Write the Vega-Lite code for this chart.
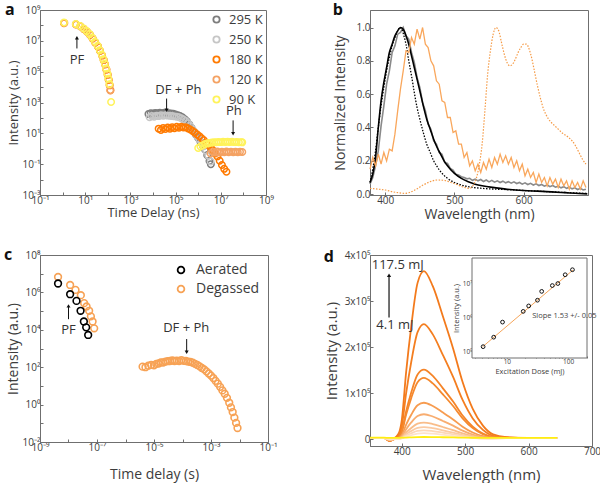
{
"$schema": "https://vega.github.io/schema/vega-lite/v6.json",
"padding": {"left": 3, "top": 1, "right": 0, "bottom": 0},
"background": "white",
"config": {
  "font": "Open Sans",
  "view": {"stroke": "#6f6f6f", "strokeWidth": 1},
  "axis": {"grid": false, "domainColor": "#6f6f6f", "tickColor": "#6f6f6f", "labelColor": "#3c3c3c", "titleColor": "#3c3c3c", "labelFontSize": 10, "titleFontWeight": "normal", "tickSize": -3, "labelPadding": 3, "labelFlush": false, "labelOverlap": false},
  "legend": {"labelColor": "#3c3c3c"}
},
"datasets": {
  "a_pts": [
    {"s":"295 K","t":6300,"v":178},{"s":"295 K","t":7900,"v":200},{"s":"295 K","t":10000,"v":191},{"s":"295 K","t":12600,"v":209},{"s":"295 K","t":15800,"v":200},{"s":"295 K","t":20000,"v":214},{"s":"295 K","t":25000,"v":204},{"s":"295 K","t":31600,"v":219},{"s":"295 K","t":39800,"v":209},{"s":"295 K","t":50100,"v":200},{"s":"295 K","t":63100,"v":191},{"s":"295 K","t":79400,"v":186},{"s":"295 K","t":100000,"v":166},{"s":"295 K","t":126000,"v":151},{"s":"295 K","t":158000,"v":132},{"s":"295 K","t":200000,"v":110},{"s":"295 K","t":251000,"v":83},{"s":"295 K","t":316000,"v":60},{"s":"295 K","t":398000,"v":38},{"s":"295 K","t":501000,"v":22.4},{"s":"295 K","t":631000,"v":13.2},{"s":"295 K","t":794000,"v":8.3},{"s":"295 K","t":1000000,"v":5.0},{"s":"295 K","t":1259000,"v":2.8},{"s":"295 K","t":1585000,"v":1.66},{"s":"295 K","t":1995000,"v":0.89},{"s":"295 K","t":2512000,"v":0.38},{"s":"295 K","t":3162000,"v":0.16},{"s":"295 K","t":3630000,"v":0.1},
    {"s":"250 K","t":7080,"v":112},{"s":"250 K","t":8910,"v":132},{"s":"250 K","t":11200,"v":120},{"s":"250 K","t":14100,"v":141},{"s":"250 K","t":17800,"v":132},{"s":"250 K","t":22400,"v":151},{"s":"250 K","t":28200,"v":138},{"s":"250 K","t":35500,"v":148},{"s":"250 K","t":44700,"v":141},{"s":"250 K","t":56200,"v":138},{"s":"250 K","t":70800,"v":132},{"s":"250 K","t":89100,"v":126},{"s":"250 K","t":112000,"v":120},{"s":"250 K","t":141000,"v":110},{"s":"250 K","t":178000,"v":95},{"s":"250 K","t":224000,"v":79},{"s":"250 K","t":282000,"v":63},{"s":"250 K","t":355000,"v":46},{"s":"250 K","t":447000,"v":30},{"s":"250 K","t":562000,"v":18.2},{"s":"250 K","t":708000,"v":11},{"s":"250 K","t":891000,"v":6.9},{"s":"250 K","t":1122000,"v":4.2},{"s":"250 K","t":1413000,"v":2.5},{"s":"250 K","t":1778000,"v":1.45},{"s":"250 K","t":2239000,"v":0.76},{"s":"250 K","t":2818000,"v":0.35},{"s":"250 K","t":3548000,"v":0.15},
    {"s":"180 K","t":1.15,"v":1.4e8},{"s":"180 K","t":3.9,"v":1.15e8},{"s":"180 K","t":6.2,"v":8.5e7},{"s":"180 K","t":8.8,"v":5.8e7},{"s":"180 K","t":12,"v":3.9e7},{"s":"180 K","t":16.3,"v":2.4e7},{"s":"180 K","t":21.3,"v":1.4e7},{"s":"180 K","t":28,"v":7.6e6},{"s":"180 K","t":37,"v":4.2e6},{"s":"180 K","t":45.5,"v":2.2e6},{"s":"180 K","t":56,"v":1.1e6},{"s":"180 K","t":66,"v":5.6e5},{"s":"180 K","t":76,"v":2.9e5},{"s":"180 K","t":87,"v":1.35e5},{"s":"180 K","t":99,"v":6.2e4},{"s":"180 K","t":110,"v":2.9e4},{"s":"180 K","t":121,"v":1.3e4},{"s":"180 K","t":131,"v":6.3e3},
    {"s":"180 K","t":17800,"v":20},{"s":"180 K","t":22400,"v":16.6},{"s":"180 K","t":28200,"v":22.4},{"s":"180 K","t":35500,"v":19.1},{"s":"180 K","t":44700,"v":24},{"s":"180 K","t":56200,"v":20},{"s":"180 K","t":70800,"v":25.1},{"s":"180 K","t":89100,"v":21.4},{"s":"180 K","t":112000,"v":26.3},{"s":"180 K","t":141000,"v":22.9},{"s":"180 K","t":178000,"v":26.9},{"s":"180 K","t":224000,"v":24},{"s":"180 K","t":282000,"v":25.1},{"s":"180 K","t":355000,"v":20.9},{"s":"180 K","t":447000,"v":17.8},{"s":"180 K","t":562000,"v":14.1},{"s":"180 K","t":708000,"v":11.2},{"s":"180 K","t":891000,"v":8.5},{"s":"180 K","t":1122000,"v":6.6},{"s":"180 K","t":1413000,"v":4.8},{"s":"180 K","t":1778000,"v":3.55},{"s":"180 K","t":2239000,"v":2.5},{"s":"180 K","t":2818000,"v":1.74},{"s":"180 K","t":3548000,"v":1.2},{"s":"180 K","t":4467000,"v":0.79},{"s":"180 K","t":5623000,"v":0.5},{"s":"180 K","t":7079000,"v":0.32},{"s":"180 K","t":8913000,"v":0.166},{"s":"180 K","t":11220000,"v":0.089},{"s":"180 K","t":14130000,"v":0.05},{"s":"180 K","t":17780000,"v":0.032},
    {"s":"120 K","t":1.2,"v":1.45e8},{"s":"120 K","t":3.85,"v":1.2e8},{"s":"120 K","t":6.1,"v":8.8e7},{"s":"120 K","t":8.7,"v":6e7},{"s":"120 K","t":11.8,"v":4.1e7},{"s":"120 K","t":16,"v":2.6e7},{"s":"120 K","t":21,"v":1.5e7},{"s":"120 K","t":27.5,"v":8.2e6},{"s":"120 K","t":36.5,"v":4.5e6},{"s":"120 K","t":45,"v":2.3e6},{"s":"120 K","t":55,"v":1.2e6},{"s":"120 K","t":65,"v":6e5},{"s":"120 K","t":75,"v":3.1e5},{"s":"120 K","t":86,"v":1.45e5},{"s":"120 K","t":98,"v":6.8e4},{"s":"120 K","t":108,"v":3.2e4},{"s":"120 K","t":120,"v":1.4e4},{"s":"120 K","t":129,"v":6.0e3},
    {"s":"120 K","t":3548000,"v":0.5},{"s":"120 K","t":4467000,"v":0.63},{"s":"120 K","t":5623000,"v":0.56},{"s":"120 K","t":7079000,"v":0.66},{"s":"120 K","t":8913000,"v":0.575},{"s":"120 K","t":11220000,"v":0.63},{"s":"120 K","t":14130000,"v":0.6},{"s":"120 K","t":17780000,"v":0.66},{"s":"120 K","t":22390000,"v":0.6},{"s":"120 K","t":28180000,"v":0.65},{"s":"120 K","t":35480000,"v":0.59},{"s":"120 K","t":44670000,"v":0.63},{"s":"120 K","t":56230000,"v":0.6},{"s":"120 K","t":70790000,"v":0.63},{"s":"120 K","t":89130000,"v":0.62},
    {"s":"90 K","t":1.15,"v":1.55e8},{"s":"90 K","t":3.85,"v":1.23e8},{"s":"90 K","t":5.98,"v":9.1e7},{"s":"90 K","t":8.5,"v":6.3e7},{"s":"90 K","t":11.6,"v":4.3e7},{"s":"90 K","t":15.7,"v":2.75e7},{"s":"90 K","t":20.5,"v":1.58e7},{"s":"90 K","t":27.1,"v":8.7e6},{"s":"90 K","t":35.8,"v":4.8e6},{"s":"90 K","t":44,"v":2.5e6},{"s":"90 K","t":54,"v":1.29e6},{"s":"90 K","t":63.7,"v":6.5e5},{"s":"90 K","t":73.5,"v":3.4e5},{"s":"90 K","t":84,"v":1.58e5},{"s":"90 K","t":96,"v":7.4e4},{"s":"90 K","t":106,"v":3.5e4},{"s":"90 K","t":118,"v":1.55e4},{"s":"90 K","t":140,"v":1.07e3},
    {"s":"90 K","t":1000000,"v":1.12},{"s":"90 K","t":1259000,"v":1.41},{"s":"90 K","t":1585000,"v":1.66},{"s":"90 K","t":1995000,"v":2.0},{"s":"90 K","t":2512000,"v":2.24},{"s":"90 K","t":3162000,"v":2.4},{"s":"90 K","t":3981000,"v":2.51},{"s":"90 K","t":5012000,"v":2.63},{"s":"90 K","t":6310000,"v":2.63},{"s":"90 K","t":7943000,"v":2.75},{"s":"90 K","t":10000000,"v":2.69},{"s":"90 K","t":12590000,"v":2.82},{"s":"90 K","t":15850000,"v":2.75},{"s":"90 K","t":19950000,"v":2.82},{"s":"90 K","t":25120000,"v":2.75},{"s":"90 K","t":31620000,"v":2.82},{"s":"90 K","t":39810000,"v":2.69},{"s":"90 K","t":50120000,"v":2.75},{"s":"90 K","t":63100000,"v":2.63},{"s":"90 K","t":79430000,"v":2.69},{"s":"90 K","t":89000000,"v":2.6}
  ],
  "a_txt": [{"t":4.3,"v":560000,"label":"PF"},{"t":133000,"v":6300,"label":"DF + Ph"},{"t":38000000,"v":270,"label":"Ph"}],
  "a_arr": [{"t":4.3,"from":3200000,"to":16000000,"dir":"up"},{"t":40000,"from":1800,"to":316,"dir":"down"},{"t":35000000,"from":69,"to":9.3,"dir":"down"}],
  "b_gray": [
    {"w":378,"v":0.06},{"w":382,"v":0.1},{"w":386,"v":0.17},{"w":390,"v":0.26},{"w":394,"v":0.41},{"w":398,"v":0.53},{"w":402,"v":0.66},{"w":406,"v":0.74},{"w":410,"v":0.85},{"w":414,"v":0.89},{"w":418,"v":0.96},{"w":422,"v":0.97},{"w":426,"v":1.0},{"w":430,"v":0.95},{"w":434,"v":0.93},{"w":438,"v":0.85},{"w":442,"v":0.79},{"w":446,"v":0.7},{"w":450,"v":0.64},{"w":454,"v":0.55},{"w":458,"v":0.5},{"w":462,"v":0.42},{"w":466,"v":0.39},{"w":470,"v":0.32},{"w":474,"v":0.3},{"w":478,"v":0.25},{"w":482,"v":0.24},{"w":486,"v":0.19},{"w":490,"v":0.185},{"w":494,"v":0.155},{"w":498,"v":0.145},{"w":502,"v":0.12},{"w":506,"v":0.115},{"w":510,"v":0.105},{"w":514,"v":0.1},{"w":518,"v":0.092},{"w":522,"v":0.095},{"w":526,"v":0.083},{"w":530,"v":0.09},{"w":534,"v":0.08},{"w":538,"v":0.088},{"w":542,"v":0.076},{"w":546,"v":0.085},{"w":550,"v":0.074},{"w":554,"v":0.083},{"w":558,"v":0.072},{"w":562,"v":0.08},{"w":566,"v":0.07},{"w":570,"v":0.078},{"w":574,"v":0.068},{"w":578,"v":0.075},{"w":582,"v":0.066},{"w":586,"v":0.074},{"w":590,"v":0.064},{"w":594,"v":0.07},{"w":598,"v":0.06},{"w":602,"v":0.068},{"w":606,"v":0.058},{"w":610,"v":0.065},{"w":614,"v":0.055},{"w":618,"v":0.062},{"w":622,"v":0.052},{"w":626,"v":0.058},{"w":630,"v":0.048},{"w":634,"v":0.055},{"w":638,"v":0.045},{"w":642,"v":0.052},{"w":646,"v":0.042},{"w":650,"v":0.048},{"w":654,"v":0.038},{"w":658,"v":0.045},{"w":662,"v":0.035},{"w":666,"v":0.042},{"w":670,"v":0.032},{"w":674,"v":0.038},{"w":678,"v":0.028},{"w":682,"v":0.035},{"w":686,"v":0.025},{"w":690,"v":0.03}
  ],
  "b_black": [
    {"w":378,"v":0.07},{"w":382,"v":0.12},{"w":386,"v":0.22},{"w":390,"v":0.4},{"w":394,"v":0.56},{"w":398,"v":0.67},{"w":402,"v":0.76},{"w":406,"v":0.85},{"w":410,"v":0.9},{"w":414,"v":0.95},{"w":418,"v":0.98},{"w":422,"v":1.0},{"w":426,"v":0.99},{"w":430,"v":0.95},{"w":434,"v":0.9},{"w":438,"v":0.83},{"w":442,"v":0.76},{"w":446,"v":0.69},{"w":450,"v":0.62},{"w":455,"v":0.53},{"w":460,"v":0.45},{"w":465,"v":0.39},{"w":470,"v":0.33},{"w":475,"v":0.28},{"w":480,"v":0.24},{"w":485,"v":0.2},{"w":490,"v":0.17},{"w":495,"v":0.145},{"w":500,"v":0.125},{"w":510,"v":0.095},{"w":520,"v":0.075},{"w":530,"v":0.06},{"w":540,"v":0.05},{"w":560,"v":0.038},{"w":580,"v":0.028},{"w":600,"v":0.022},{"w":620,"v":0.018},{"w":640,"v":0.014},{"w":660,"v":0.009},{"w":680,"v":0.004},{"w":692,"v":0.002}
  ],
  "b_blackdot": [
    {"w":378,"v":0.07},{"w":382,"v":0.15},{"w":386,"v":0.26},{"w":390,"v":0.4},{"w":394,"v":0.53},{"w":398,"v":0.64},{"w":402,"v":0.74},{"w":406,"v":0.82},{"w":410,"v":0.89},{"w":414,"v":0.94},{"w":418,"v":0.98},{"w":421,"v":1.0},{"w":424,"v":0.99},{"w":427,"v":0.95},{"w":430,"v":0.9},{"w":434,"v":0.8},{"w":438,"v":0.71},{"w":442,"v":0.61},{"w":446,"v":0.52},{"w":450,"v":0.45},{"w":455,"v":0.37},{"w":460,"v":0.3},{"w":465,"v":0.25},{"w":470,"v":0.2},{"w":475,"v":0.165},{"w":480,"v":0.135},{"w":490,"v":0.095},{"w":500,"v":0.07},{"w":510,"v":0.055},{"w":520,"v":0.045},{"w":540,"v":0.035},{"w":560,"v":0.03},{"w":580,"v":0.027},{"w":600,"v":0.022},{"w":630,"v":0.016},{"w":660,"v":0.01},{"w":692,"v":0.004}
  ],
  "b_orange": [
    {"w":378,"v":0.15},{"w":382,"v":0.22},{"w":386,"v":0.17},{"w":390,"v":0.24},{"w":394,"v":0.18},{"w":398,"v":0.25},{"w":402,"v":0.2},{"w":406,"v":0.27},{"w":410,"v":0.26},{"w":414,"v":0.36},{"w":418,"v":0.5},{"w":422,"v":0.63},{"w":426,"v":0.74},{"w":430,"v":0.86},{"w":434,"v":0.85},{"w":438,"v":0.94},{"w":442,"v":0.9},{"w":446,"v":0.99},{"w":450,"v":0.93},{"w":454,"v":1.0},{"w":458,"v":0.9},{"w":462,"v":0.88},{"w":466,"v":0.8},{"w":470,"v":0.77},{"w":474,"v":0.68},{"w":478,"v":0.66},{"w":482,"v":0.56},{"w":486,"v":0.55},{"w":490,"v":0.46},{"w":494,"v":0.46},{"w":498,"v":0.37},{"w":502,"v":0.38},{"w":506,"v":0.3},{"w":510,"v":0.3},{"w":514,"v":0.22},{"w":518,"v":0.25},{"w":522,"v":0.17},{"w":526,"v":0.2},{"w":530,"v":0.14},{"w":534,"v":0.18},{"w":538,"v":0.13},{"w":542,"v":0.19},{"w":546,"v":0.15},{"w":550,"v":0.21},{"w":554,"v":0.16},{"w":558,"v":0.22},{"w":562,"v":0.18},{"w":566,"v":0.24},{"w":570,"v":0.19},{"w":574,"v":0.23},{"w":578,"v":0.18},{"w":582,"v":0.22},{"w":586,"v":0.16},{"w":590,"v":0.2},{"w":594,"v":0.14},{"w":598,"v":0.18},{"w":602,"v":0.11},{"w":606,"v":0.15},{"w":610,"v":0.1},{"w":614,"v":0.13},{"w":618,"v":0.07},{"w":622,"v":0.12},{"w":626,"v":0.07},{"w":630,"v":0.1},{"w":634,"v":0.05},{"w":638,"v":0.1},{"w":642,"v":0.06},{"w":646,"v":0.09},{"w":650,"v":0.04},{"w":654,"v":0.09},{"w":658,"v":0.05},{"w":662,"v":0.08},{"w":666,"v":0.03},{"w":670,"v":0.08},{"w":674,"v":0.04},{"w":678,"v":0.07},{"w":682,"v":0.03},{"w":686,"v":0.08},{"w":690,"v":0.04}
  ],
  "b_orangedot": [
    {"w":378,"v":0.035},{"w":390,"v":0.03},{"w":400,"v":0.025},{"w":410,"v":0.015},{"w":420,"v":0.008},{"w":428,"v":0.005},{"w":435,"v":0.01},{"w":445,"v":0.03},{"w":455,"v":0.055},{"w":465,"v":0.075},{"w":475,"v":0.085},{"w":485,"v":0.083},{"w":495,"v":0.07},{"w":505,"v":0.055},{"w":515,"v":0.04},{"w":522,"v":0.035},{"w":528,"v":0.06},{"w":532,"v":0.1},{"w":536,"v":0.18},{"w":540,"v":0.3},{"w":544,"v":0.5},{"w":548,"v":0.72},{"w":552,"v":0.86},{"w":556,"v":0.96},{"w":560,"v":1.0},{"w":564,"v":0.98},{"w":568,"v":0.91},{"w":572,"v":0.84},{"w":576,"v":0.79},{"w":580,"v":0.77},{"w":584,"v":0.78},{"w":588,"v":0.81},{"w":592,"v":0.85},{"w":596,"v":0.88},{"w":600,"v":0.9},{"w":604,"v":0.9},{"w":608,"v":0.87},{"w":612,"v":0.81},{"w":616,"v":0.73},{"w":620,"v":0.65},{"w":624,"v":0.58},{"w":628,"v":0.52},{"w":632,"v":0.48},{"w":636,"v":0.45},{"w":640,"v":0.43},{"w":645,"v":0.41},{"w":650,"v":0.39},{"w":655,"v":0.37},{"w":660,"v":0.355},{"w":665,"v":0.34},{"w":670,"v":0.32},{"w":675,"v":0.29},{"w":680,"v":0.25},{"w":685,"v":0.21},{"w":690,"v":0.18}
  ],
  "c_pts": [
    {"s":"Degassed","t":4.3e-9,"v":6.7e6},{"s":"Degassed","t":1.14e-8,"v":2.5e6},{"s":"Degassed","t":1.76e-8,"v":1.36e6},{"s":"Degassed","t":2.71e-8,"v":7.1e5},{"s":"Degassed","t":3.54e-8,"v":2.66e5},{"s":"Degassed","t":4.3e-8,"v":1.77e5},{"s":"Degassed","t":5.3e-8,"v":1.04e5},{"s":"Degassed","t":6.1e-8,"v":5.2e4},{"s":"Degassed","t":7.0e-8,"v":2.8e4},{"s":"Degassed","t":7.96e-8,"v":1.2e4},
    {"s":"Degassed","t":3.98e-6,"v":107},{"s":"Degassed","t":5.01e-6,"v":100},{"s":"Degassed","t":6.31e-6,"v":120},{"s":"Degassed","t":7.94e-6,"v":132},{"s":"Degassed","t":1.0e-5,"v":126},{"s":"Degassed","t":1.2e-5,"v":151},{"s":"Degassed","t":1.45e-5,"v":158},{"s":"Degassed","t":1.74e-5,"v":182},{"s":"Degassed","t":2.09e-5,"v":178},{"s":"Degassed","t":2.51e-5,"v":200},{"s":"Degassed","t":3.02e-5,"v":209},{"s":"Degassed","t":3.63e-5,"v":214},{"s":"Degassed","t":4.37e-5,"v":229},{"s":"Degassed","t":5.25e-5,"v":214},{"s":"Degassed","t":6.31e-5,"v":224},{"s":"Degassed","t":7.59e-5,"v":214},{"s":"Degassed","t":9.12e-5,"v":240},{"s":"Degassed","t":1.096e-4,"v":219},{"s":"Degassed","t":1.318e-4,"v":214},{"s":"Degassed","t":1.585e-4,"v":200},{"s":"Degassed","t":1.905e-4,"v":191},{"s":"Degassed","t":2.291e-4,"v":174},{"s":"Degassed","t":2.754e-4,"v":151},{"s":"Degassed","t":3.311e-4,"v":132},{"s":"Degassed","t":3.981e-4,"v":110},{"s":"Degassed","t":4.786e-4,"v":91},{"s":"Degassed","t":5.754e-4,"v":76},{"s":"Degassed","t":6.918e-4,"v":60},{"s":"Degassed","t":8.318e-4,"v":46},{"s":"Degassed","t":1.0e-3,"v":35.5},{"s":"Degassed","t":1.202e-3,"v":26.3},{"s":"Degassed","t":1.445e-3,"v":18.6},{"s":"Degassed","t":1.738e-3,"v":13.2},{"s":"Degassed","t":2.089e-3,"v":8.9},{"s":"Degassed","t":2.512e-3,"v":5.75},{"s":"Degassed","t":3.02e-3,"v":3.8},{"s":"Degassed","t":3.631e-3,"v":2.29},{"s":"Degassed","t":4.365e-3,"v":1.26},{"s":"Degassed","t":5.012e-3,"v":0.71},{"s":"Degassed","t":5.754e-3,"v":0.4},{"s":"Degassed","t":6.607e-3,"v":0.2},{"s":"Degassed","t":7.586e-3,"v":0.105},{"s":"Degassed","t":8.511e-3,"v":0.056},
    {"s":"Aerated","t":4.3e-9,"v":3.0e6},{"s":"Aerated","t":1.14e-8,"v":8.0e5},{"s":"Aerated","t":1.91e-8,"v":3.5e5},{"s":"Aerated","t":2.65e-8,"v":1.04e5},{"s":"Aerated","t":3.46e-8,"v":2.8e4},{"s":"Aerated","t":4.17e-8,"v":1.35e4},{"s":"Aerated","t":4.9e-8,"v":5.3e3}
  ],
  "c_txt": [{"t":1e-8,"v":10000,"label":"PF"},{"t":1.35e-4,"v":12000,"label":"DF + Ph"}],
  "c_arr": [{"t":1e-8,"from":37000,"to":190000,"dir":"up"},{"t":1.4e-4,"from":3200,"to":630,"dir":"down"}],
  "d_spec": [
    {"d":"117.5","w":350,"i":2500},{"d":"117.5","w":372,"i":2500},{"d":"117.5","w":381,"i":-4000},{"d":"117.5","w":390,"i":3650},{"d":"117.5","w":396,"i":14600},{"d":"117.5","w":400,"i":40150},{"d":"117.5","w":407,"i":146000},{"d":"117.5","w":415,"i":244550},{"d":"117.5","w":425,"i":339450},{"d":"117.5","w":435,"i":365000},{"d":"117.5","w":449,"i":332150},{"d":"117.5","w":465,"i":266450},{"d":"117.5","w":481,"i":197100},{"d":"117.5","w":496,"i":124100},{"d":"117.5","w":512,"i":65700},{"d":"117.5","w":528,"i":29200},{"d":"117.5","w":544,"i":10125},{"d":"117.5","w":565,"i":4190},{"d":"117.5","w":600,"i":2500},{"d":"117.5","w":645,"i":2500},
    {"d":"89.5","w":350,"i":2500},{"d":"89.5","w":372,"i":2500},{"d":"89.5","w":381,"i":-4000},{"d":"89.5","w":390,"i":2500},{"d":"89.5","w":396,"i":10000},{"d":"89.5","w":400,"i":27500},{"d":"89.5","w":407,"i":100000},{"d":"89.5","w":415,"i":167500},{"d":"89.5","w":425,"i":232500},{"d":"89.5","w":435,"i":250000},{"d":"89.5","w":449,"i":227500},{"d":"89.5","w":465,"i":182500},{"d":"89.5","w":481,"i":135000},{"d":"89.5","w":496,"i":85000},{"d":"89.5","w":512,"i":45000},{"d":"89.5","w":528,"i":20000},{"d":"89.5","w":544,"i":7250},{"d":"89.5","w":565,"i":3500},{"d":"89.5","w":600,"i":2500},{"d":"89.5","w":645,"i":2500},
    {"d":"67.9","w":350,"i":2500},{"d":"67.9","w":372,"i":2500},{"d":"67.9","w":381,"i":-3500},{"d":"67.9","w":390,"i":1510},{"d":"67.9","w":396,"i":6040},{"d":"67.9","w":400,"i":16610},{"d":"67.9","w":407,"i":60400},{"d":"67.9","w":415,"i":101170},{"d":"67.9","w":425,"i":140430},{"d":"67.9","w":435,"i":151000},{"d":"67.9","w":449,"i":137410},{"d":"67.9","w":465,"i":110230},{"d":"67.9","w":481,"i":81540},{"d":"67.9","w":496,"i":51340},{"d":"67.9","w":512,"i":27180},{"d":"67.9","w":528,"i":12080},{"d":"67.9","w":544,"i":4775},{"d":"67.9","w":565,"i":2906},{"d":"67.9","w":600,"i":2500},{"d":"67.9","w":645,"i":2500},
    {"d":"55.2","w":350,"i":2500},{"d":"55.2","w":372,"i":2500},{"d":"55.2","w":381,"i":-3500},{"d":"55.2","w":390,"i":1330},{"d":"55.2","w":396,"i":5320},{"d":"55.2","w":400,"i":14630},{"d":"55.2","w":407,"i":53200},{"d":"55.2","w":415,"i":89110},{"d":"55.2","w":425,"i":123690},{"d":"55.2","w":435,"i":133000},{"d":"55.2","w":449,"i":121030},{"d":"55.2","w":465,"i":97090},{"d":"55.2","w":481,"i":71820},{"d":"55.2","w":496,"i":45220},{"d":"55.2","w":512,"i":23940},{"d":"55.2","w":528,"i":10640},{"d":"55.2","w":544,"i":4325},{"d":"55.2","w":565,"i":2798},{"d":"55.2","w":600,"i":2500},{"d":"55.2","w":645,"i":2500},
    {"d":"37","w":350,"i":2000},{"d":"37","w":372,"i":2000},{"d":"37","w":381,"i":-2500},{"d":"37","w":390,"i":790},{"d":"37","w":396,"i":3160},{"d":"37","w":400,"i":8690},{"d":"37","w":407,"i":31600},{"d":"37","w":415,"i":52930},{"d":"37","w":425,"i":73470},{"d":"37","w":435,"i":79000},{"d":"37","w":449,"i":71890},{"d":"37","w":465,"i":57670},{"d":"37","w":481,"i":42660},{"d":"37","w":496,"i":26860},{"d":"37","w":512,"i":14220},{"d":"37","w":528,"i":6320},{"d":"37","w":544,"i":2975},{"d":"37","w":565,"i":2474},{"d":"37","w":600,"i":2000},{"d":"37","w":645,"i":2000},
    {"d":"31.6","w":350,"i":2000},{"d":"31.6","w":372,"i":2000},{"d":"31.6","w":381,"i":-2000},{"d":"31.6","w":390,"i":540},{"d":"31.6","w":396,"i":2160},{"d":"31.6","w":400,"i":5940},{"d":"31.6","w":407,"i":21600},{"d":"31.6","w":415,"i":36180},{"d":"31.6","w":425,"i":50220},{"d":"31.6","w":435,"i":54000},{"d":"31.6","w":449,"i":49140},{"d":"31.6","w":465,"i":39420},{"d":"31.6","w":481,"i":29160},{"d":"31.6","w":496,"i":18360},{"d":"31.6","w":512,"i":9720},{"d":"31.6","w":528,"i":4320},{"d":"31.6","w":544,"i":2350},{"d":"31.6","w":565,"i":2324},{"d":"31.6","w":600,"i":2000},{"d":"31.6","w":645,"i":2000},
    {"d":"22.7","w":350,"i":2000},{"d":"22.7","w":372,"i":2000},{"d":"22.7","w":381,"i":-1500},{"d":"22.7","w":390,"i":360},{"d":"22.7","w":396,"i":1440},{"d":"22.7","w":400,"i":3960},{"d":"22.7","w":407,"i":14400},{"d":"22.7","w":415,"i":24120},{"d":"22.7","w":425,"i":33480},{"d":"22.7","w":435,"i":36000},{"d":"22.7","w":449,"i":32760},{"d":"22.7","w":465,"i":26280},{"d":"22.7","w":481,"i":19440},{"d":"22.7","w":496,"i":12240},{"d":"22.7","w":512,"i":6480},{"d":"22.7","w":528,"i":2880},{"d":"22.7","w":544,"i":1900},{"d":"22.7","w":565,"i":2216},{"d":"22.7","w":600,"i":2000},{"d":"22.7","w":645,"i":2000},
    {"d":"18.5","w":350,"i":2000},{"d":"18.5","w":372,"i":2000},{"d":"18.5","w":381,"i":-1000},{"d":"18.5","w":390,"i":260},{"d":"18.5","w":396,"i":1040},{"d":"18.5","w":400,"i":2860},{"d":"18.5","w":407,"i":10400},{"d":"18.5","w":415,"i":17420},{"d":"18.5","w":425,"i":24180},{"d":"18.5","w":435,"i":26000},{"d":"18.5","w":449,"i":23660},{"d":"18.5","w":465,"i":18980},{"d":"18.5","w":481,"i":14040},{"d":"18.5","w":496,"i":8840},{"d":"18.5","w":512,"i":4680},{"d":"18.5","w":528,"i":2080},{"d":"18.5","w":544,"i":1650},{"d":"18.5","w":565,"i":2156},{"d":"18.5","w":600,"i":2000},{"d":"18.5","w":645,"i":2000},
    {"d":"8.5","w":350,"i":2000},{"d":"8.5","w":372,"i":2000},{"d":"8.5","w":381,"i":-500},{"d":"8.5","w":390,"i":190},{"d":"8.5","w":396,"i":760},{"d":"8.5","w":400,"i":2090},{"d":"8.5","w":407,"i":7600},{"d":"8.5","w":415,"i":12730},{"d":"8.5","w":425,"i":17670},{"d":"8.5","w":435,"i":19000},{"d":"8.5","w":449,"i":17290},{"d":"8.5","w":465,"i":13870},{"d":"8.5","w":481,"i":10260},{"d":"8.5","w":496,"i":6460},{"d":"8.5","w":512,"i":3420},{"d":"8.5","w":528,"i":1520},{"d":"8.5","w":544,"i":1475},{"d":"8.5","w":565,"i":2114},{"d":"8.5","w":600,"i":2000},{"d":"8.5","w":645,"i":2000},
    {"d":"6.1","w":350,"i":2000},{"d":"6.1","w":372,"i":2000},{"d":"6.1","w":381,"i":0},{"d":"6.1","w":390,"i":130},{"d":"6.1","w":396,"i":520},{"d":"6.1","w":400,"i":1430},{"d":"6.1","w":407,"i":5200},{"d":"6.1","w":415,"i":8710},{"d":"6.1","w":425,"i":12090},{"d":"6.1","w":435,"i":13000},{"d":"6.1","w":449,"i":11830},{"d":"6.1","w":465,"i":9490},{"d":"6.1","w":481,"i":7020},{"d":"6.1","w":496,"i":4420},{"d":"6.1","w":512,"i":2340},{"d":"6.1","w":528,"i":1040},{"d":"6.1","w":544,"i":1325},{"d":"6.1","w":565,"i":2078},{"d":"6.1","w":600,"i":2000},{"d":"6.1","w":645,"i":2000},
    {"d":"4.1","w":350,"i":3000},{"d":"4.1","w":372,"i":3000},{"d":"4.1","w":381,"i":2500},{"d":"4.1","w":390,"i":2600},{"d":"4.1","w":396,"i":2800},{"d":"4.1","w":400,"i":3000},{"d":"4.1","w":407,"i":3400},{"d":"4.1","w":415,"i":3900},{"d":"4.1","w":425,"i":4400},{"d":"4.1","w":435,"i":4600},{"d":"4.1","w":449,"i":4400},{"d":"4.1","w":465,"i":4000},{"d":"4.1","w":481,"i":3600},{"d":"4.1","w":496,"i":3200},{"d":"4.1","w":512,"i":2900},{"d":"4.1","w":528,"i":2700},{"d":"4.1","w":544,"i":2600},{"d":"4.1","w":565,"i":2500},{"d":"4.1","w":600,"i":2500},{"d":"4.1","w":645,"i":2500}
  ],
  "d_txt": [{"w":352.7,"i":378000,"label":"117.5 mJ"},{"w":360,"i":248000,"label":"4.1 mJ"}],
  "d_arr": [{"w":380,"from":264000,"to":356000,"dir":"up"}],
  "d_inset": [{"x":4.1,"y":142000},{"x":6.1,"y":270000},{"x":8.5,"y":750000},{"x":18.5,"y":1550000},{"x":22.7,"y":2240000},{"x":31.6,"y":3300000},{"x":37,"y":6000000},{"x":55.2,"y":8900000},{"x":67.9,"y":10200000},{"x":89.5,"y":18500000},{"x":117.5,"y":26000000}],
  "d_fit": [{"x":4,"y":140000},{"x":120,"y":25500000}],
  "d_slope": [{"x":25.9,"y":1170000,"label":"Slope 1.53 +/- 0.05"}]
},
"columns": 2,
"bounds": "flush",
"align": "all",
"spacing": {"row": 54, "column": 102},
"resolve": {"scale": {"color": "independent", "shape": "independent"}, "legend": {"color": "independent", "shape": "independent"}},
"concat": [
   {
    "width": 226, "height": 185,
    "layer": [
     {
      "data": {"name": "a_pts"},
      "mark": {"type": "point", "filled": false, "size": 42, "strokeWidth": 1.5, "opacity": 1},
      "encoding": {
       "x": {"field": "t", "type": "quantitative", "scale": {"type": "log", "domain": [0.1, 1e9]},
             "axis": {"title": "Time Delay (ns)", "titleFontSize": 13, "titlePadding": 1, "values": [0.1,1,10,100,1000,1e4,1e5,1e6,1e7,1e8,1e9], "tickCount": 20,
                      "labelExpr": "round(log(datum.value)/LN10) % 2 == 0 ? '' : ['10⁻⁹','10⁻⁸','10⁻⁷','10⁻⁶','10⁻⁵','10⁻⁴','10⁻³','10⁻²','10⁻¹','10⁰','10¹','10²','10³','10⁴','10⁵','10⁶','10⁷','10⁸','10⁹'][round(log(datum.value)/LN10)+9]"}},
       "y": {"field": "v", "type": "quantitative", "scale": {"type": "log", "domain": [0.001, 1e9]},
             "axis": {"title": "Intensity (a.u.)", "titleFontSize": 13, "titlePadding": 2, "values": [0.001,0.01,0.1,1,10,100,1000,1e4,1e5,1e6,1e7,1e8,1e9], "tickCount": 20,
                      "labelExpr": "round(log(datum.value)/LN10) % 2 == 0 ? '' : ['10⁻⁹','10⁻⁸','10⁻⁷','10⁻⁶','10⁻⁵','10⁻⁴','10⁻³','10⁻²','10⁻¹','10⁰','10¹','10²','10³','10⁴','10⁵','10⁶','10⁷','10⁸','10⁹'][round(log(datum.value)/LN10)+9]"}},
       "color": {"field": "s", "type": "nominal",
                 "scale": {"domain": ["295 K","250 K","180 K","120 K","90 K"], "range": ["#7d7d7d","#c6c6c6","#ff7a00","#f4a263","#fff35a"]},
                 "legend": {"title": null, "orient": "top-right", "offset": 3, "labelFontSize": 13, "symbolSize": 40, "symbolStrokeWidth": 1.8, "rowPadding": 5, "labelOffset": 6, "padding": 0}}
      }
     },
     {
      "data": {"name": "a_arr"},
      "mark": {"type": "rule", "color": "#111111", "strokeWidth": 1},
      "encoding": {"x": {"field": "t", "type": "quantitative"}, "y": {"field": "from", "type": "quantitative"}, "y2": {"field": "to"}}
     },
     {
      "data": {"name": "a_arr"},
      "mark": {"type": "point", "filled": true, "size": 16, "color": "#111111", "opacity": 1},
      "encoding": {"x": {"field": "t", "type": "quantitative"}, "y": {"field": "to", "type": "quantitative"},
                   "shape": {"field": "dir", "type": "nominal", "scale": {"domain": ["up","down"], "range": ["triangle-up","triangle-down"]}, "legend": null}}
     },
     {
      "data": {"name": "a_txt"},
      "mark": {"type": "text", "fontSize": 13, "color": "#333333", "align": "center", "baseline": "middle"},
      "encoding": {"x": {"field": "t", "type": "quantitative"}, "y": {"field": "v", "type": "quantitative"}, "text": {"field": "label"}}
     },
     {
      "data": {"values": [{}]},
      "mark": {"type": "text", "text": "a", "fontSize": 16, "fontWeight": "bold", "color": "#111111", "align": "left", "baseline": "alphabetic"},
      "encoding": {"x": {"datum": 0.0028}, "y": {"datum": 4.9e8}}
     }
    ]
   },
   {
    "width": 218, "height": 185,
    "layer": [
     {
      "data": {"name": "b_gray"},
      "mark": {"type": "line", "color": "#8a8a8a", "strokeWidth": 1.6},
      "encoding": {
       "x": {"field": "w", "type": "quantitative", "scale": {"domain": [378, 693], "nice": false, "zero": false},
             "axis": {"title": "Wavelength (nm)", "titleFontSize": 14, "titlePadding": 2, "values": [400, 500, 600], "tickCount": 10}},
       "y": {"field": "v", "type": "quantitative", "scale": {"domain": [-0.005, 1.105], "nice": false},
             "axis": {"title": "Normalized Intensity", "titleFontSize": 14, "titlePadding": 8, "values": [0, 0.2, 0.4, 0.6, 0.8, 1], "tickCount": 10, "format": ".1f"}}
      }
     },
     {
      "data": {"name": "b_black"},
      "mark": {"type": "line", "color": "#000000", "strokeWidth": 1.6, "interpolate": "monotone"},
      "encoding": {"x": {"field": "w", "type": "quantitative"}, "y": {"field": "v", "type": "quantitative"}}
     },
     {
      "data": {"name": "b_blackdot"},
      "mark": {"type": "line", "color": "#000000", "strokeWidth": 1.3, "strokeDash": [1.5, 1.5], "interpolate": "monotone"},
      "encoding": {"x": {"field": "w", "type": "quantitative"}, "y": {"field": "v", "type": "quantitative"}}
     },
     {
      "data": {"name": "b_orange"},
      "mark": {"type": "line", "color": "#f9a75c", "strokeWidth": 1.3},
      "encoding": {"x": {"field": "w", "type": "quantitative"}, "y": {"field": "v", "type": "quantitative"}}
     },
     {
      "data": {"name": "b_orangedot"},
      "mark": {"type": "line", "color": "#f59a45", "strokeWidth": 1.2, "strokeDash": [1.5, 1.5], "interpolate": "monotone"},
      "encoding": {"x": {"field": "w", "type": "quantitative"}, "y": {"field": "v", "type": "quantitative"}}
     },
     {
      "data": {"values": [{}]},
      "mark": {"type": "text", "text": "b", "fontSize": 16, "fontWeight": "bold", "color": "#111111", "align": "left", "baseline": "alphabetic"},
      "encoding": {"x": {"datum": 324}, "y": {"datum": 1.077}}
     }
    ]
   },
   {
    "width": 228, "height": 187,
    "layer": [
     {
      "data": {"name": "c_pts"},
      "mark": {"type": "point", "filled": false, "size": 45, "strokeWidth": 1.6, "opacity": 1},
      "encoding": {
       "x": {"field": "t", "type": "quantitative", "scale": {"type": "log", "domain": [1e-9, 0.1]},
             "axis": {"title": "Time delay (s)", "titleFontSize": 14, "titlePadding": 15, "values": [1e-9,1e-8,1e-7,1e-6,1e-5,1e-4,1e-3,1e-2,0.1], "tickCount": 20,
                      "labelExpr": "round(log(datum.value)/LN10) % 2 == 0 ? '' : ['10⁻⁹','10⁻⁸','10⁻⁷','10⁻⁶','10⁻⁵','10⁻⁴','10⁻³','10⁻²','10⁻¹','10⁰','10¹','10²','10³','10⁴','10⁵','10⁶','10⁷','10⁸','10⁹'][round(log(datum.value)/LN10)+9]"}},
       "y": {"field": "v", "type": "quantitative", "scale": {"type": "log", "domain": [0.01, 1e8]},
             "axis": {"title": "Intensity (a.u.)", "titleFontSize": 14, "titlePadding": 2, "values": [0.01,0.1,1,10,100,1000,1e4,1e5,1e6,1e7,1e8], "tickCount": 20,
                      "labelExpr": "round(log(datum.value)/LN10) % 2 != 0 ? '' : ['10⁻⁹','10⁻⁸','10⁻⁷','10⁻⁶','10⁻⁵','10⁻⁴','10⁻³','10⁻²','10⁻¹','10⁰','10¹','10²','10³','10⁴','10⁵','10⁶','10⁷','10⁸','10⁹'][round(log(datum.value)/LN10)+9]"}},
       "color": {"field": "s", "type": "nominal",
                 "scale": {"domain": ["Aerated","Degassed"], "range": ["#000000","#f7a255"]},
                 "legend": {"title": null, "orient": "top-right", "offset": 8, "labelFontSize": 14, "symbolSize": 45, "symbolStrokeWidth": 1.8, "rowPadding": 5, "labelOffset": 8, "padding": 0}}
      }
     },
     {
      "data": {"name": "c_arr"},
      "mark": {"type": "rule", "color": "#111111", "strokeWidth": 1},
      "encoding": {"x": {"field": "t", "type": "quantitative"}, "y": {"field": "from", "type": "quantitative"}, "y2": {"field": "to"}}
     },
     {
      "data": {"name": "c_arr"},
      "mark": {"type": "point", "filled": true, "size": 16, "color": "#111111", "opacity": 1},
      "encoding": {"x": {"field": "t", "type": "quantitative"}, "y": {"field": "to", "type": "quantitative"},
                   "shape": {"field": "dir", "type": "nominal", "scale": {"domain": ["up","down"], "range": ["triangle-up","triangle-down"]}, "legend": null}}
     },
     {
      "data": {"name": "c_txt"},
      "mark": {"type": "text", "fontSize": 13, "color": "#333333", "align": "center", "baseline": "middle"},
      "encoding": {"x": {"field": "t", "type": "quantitative"}, "y": {"field": "v", "type": "quantitative"}, "text": {"field": "label"}}
     },
     {
      "data": {"values": [{}]},
      "mark": {"type": "text", "text": "c", "fontSize": 16, "fontWeight": "bold", "color": "#111111", "align": "left", "baseline": "alphabetic"},
      "encoding": {"x": {"datum": 5.5e-11}, "y": {"datum": 5.2e7}}
     }
    ]
   },
   {
    "width": 222, "height": 191,
    "resolve": {"scale": {"x": "independent", "y": "independent"}},
    "layer": [
     {
      "layer": [
       {
        "data": {"name": "d_spec"},
        "mark": {"type": "line", "strokeWidth": 1.8, "interpolate": "monotone"},
        "encoding": {
         "x": {"field": "w", "type": "quantitative", "scale": {"domain": [350, 700], "nice": false, "zero": false},
               "axis": {"title": "Wavelength (nm)", "titleFontSize": 15, "titlePadding": 11, "values": [400, 500, 600, 700], "tickCount": 10}},
         "y": {"field": "i", "type": "quantitative", "scale": {"domain": [-15000, 400000], "nice": false},
               "axis": {"title": "Intensity (a.u.)", "titleFontSize": 15, "titlePadding": 5, "values": [0, 100000, 200000, 300000, 400000], "tickCount": 10,
                        "labelExpr": "datum.value == 0 ? '0' : format(datum.value/100000, 'd') + 'x10⁵'"}},
         "color": {"field": "d", "type": "nominal",
                   "scale": {"domain": ["117.5","89.5","67.9","55.2","37","31.6","22.7","18.5","8.5","6.1","4.1"],
                             "range": ["#f37a1c","#f47e20","#f58428","#f5892e","#f79c50","#f8ad70","#f9bd8a","#fbcaa2","#fcd7b8","#fde2cc","#ffee11"]},
                   "legend": null}
        }
       },
       {
        "data": {"name": "d_arr"},
        "mark": {"type": "rule", "color": "#111111", "strokeWidth": 1.2},
        "encoding": {"x": {"field": "w", "type": "quantitative"}, "y": {"field": "from", "type": "quantitative"}, "y2": {"field": "to"}}
       },
       {
        "data": {"name": "d_arr"},
        "mark": {"type": "point", "filled": true, "size": 18, "color": "#111111", "opacity": 1, "shape": "triangle-up"},
        "encoding": {"x": {"field": "w", "type": "quantitative"}, "y": {"field": "to", "type": "quantitative"}}
       },
       {
        "data": {"name": "d_txt"},
        "mark": {"type": "text", "fontSize": 13, "color": "#333333", "align": "left", "baseline": "middle"},
        "encoding": {"x": {"field": "w", "type": "quantitative"}, "y": {"field": "i", "type": "quantitative"}, "text": {"field": "label"}}
       },
       {
        "data": {"values": [{}]},
        "mark": {"type": "text", "text": "d", "fontSize": 16, "fontWeight": "bold", "color": "#111111", "align": "left", "baseline": "alphabetic"},
        "encoding": {"x": {"datum": 277}, "y": {"datum": 384000}}
       }
      ]
     },
     {
      "layer": [
       {
        "data": {"values": [{}]},
        "mark": {"type": "rect", "fill": "white", "stroke": "#6f6f6f", "strokeWidth": 1},
        "encoding": {
         "x": {"datum": 2.7, "type": "quantitative", "scale": {"type": "log", "domain": [2.7, 203], "range": [102, 217]},
               "axis": {"orient": "bottom", "offset": -88, "title": "Excitation Dose (mJ)", "titleFontSize": 7.5, "titlePadding": 3, "labelFontSize": 6.5, "tickSize": -2, "labelPadding": 2, "domain": false, "tickCount": 30,
                        "values": [3,4,5,6,7,8,9,10,20,30,40,50,60,70,80,90,100,200],
                        "labelExpr": "datum.value == 10 ? '10' : datum.value == 100 ? '100' : ''"}},
         "x2": {"datum": 203},
         "y": {"datum": 66000, "type": "quantitative", "scale": {"type": "log", "domain": [66000, 57500000], "range": [103, 3]},
               "axis": {"orient": "left", "offset": -102, "title": "Intensity (a.u.)", "titleFontSize": 7.5, "titlePadding": 2, "labelFontSize": 6.5, "tickSize": -2, "labelPadding": 2, "domain": false, "tickCount": 10,
                        "values": [100000, 1000000, 10000000],
                        "labelExpr": "['10⁻⁹','10⁻⁸','10⁻⁷','10⁻⁶','10⁻⁵','10⁻⁴','10⁻³','10⁻²','10⁻¹','10⁰','10¹','10²','10³','10⁴','10⁵','10⁶','10⁷','10⁸','10⁹'][round(log(datum.value)/LN10)+9]"}},
         "y2": {"datum": 57500000}
        }
       },
       {
        "data": {"name": "d_fit"},
        "mark": {"type": "line", "color": "#f5a55a", "strokeWidth": 1},
        "encoding": {
         "x": {"field": "x", "type": "quantitative", "scale": {"type": "log", "domain": [2.7, 203], "range": [102, 217]}},
         "y": {"field": "y", "type": "quantitative", "scale": {"type": "log", "domain": [66000, 57500000], "range": [103, 3]}}
        }
       },
       {
        "data": {"name": "d_inset"},
        "mark": {"type": "point", "filled": false, "size": 14, "strokeWidth": 1, "color": "#111111", "opacity": 1},
        "encoding": {
         "x": {"field": "x", "type": "quantitative", "scale": {"type": "log", "domain": [2.7, 203], "range": [102, 217]}},
         "y": {"field": "y", "type": "quantitative", "scale": {"type": "log", "domain": [66000, 57500000], "range": [103, 3]}}
        }
       },
       {
        "data": {"name": "d_slope"},
        "mark": {"type": "text", "fontSize": 7.5, "color": "#444444", "align": "left", "baseline": "middle"},
        "encoding": {
         "x": {"field": "x", "type": "quantitative", "scale": {"type": "log", "domain": [2.7, 203], "range": [102, 217]}},
         "y": {"field": "y", "type": "quantitative", "scale": {"type": "log", "domain": [66000, 57500000], "range": [103, 3]}},
         "text": {"field": "label"}
        }
       }
      ]
     }
    ]
   }
]
}
